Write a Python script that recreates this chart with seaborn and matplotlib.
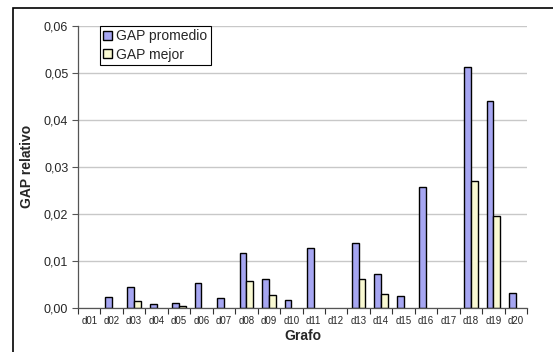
import numpy as np
import pandas as pd
import seaborn as sns
import matplotlib.pyplot as plt
from matplotlib.ticker import FuncFormatter, MultipleLocator, FixedLocator
from matplotlib.patches import Rectangle

# Data
grafos = ['d%02d' % i for i in range(1, 21)]
gap_promedio = [0.0, 0.0023, 0.0044, 0.0008, 0.0010, 0.0052, 0.0020, 0.0117, 0.0061, 0.0015,
                0.0126, 0.0, 0.0137, 0.0072, 0.0024, 0.0257, 0.0, 0.0513, 0.0440, 0.0031]
gap_mejor = [0.0, 0.0, 0.0014, 0.0, 0.0003, 0.0, 0.0, 0.0057, 0.0027, 0.0,
             0.0, 0.0, 0.0060, 0.0028, 0.0, 0.0, 0.0, 0.0269, 0.0194, 0.0]
series = ['GAP promedio', 'GAP mejor']
colors = ['#9999FF', '#FFFFCC']

df = pd.DataFrame({
    'Grafo': grafos * 2,
    'GAP': gap_promedio + gap_mejor,
    'Serie': [series[0]] * len(grafos) + [series[1]] * len(grafos),
})

sns.set_theme(style='white')
plt.rcParams['font.family'] = ['Liberation Sans', 'DejaVu Sans']

fig = plt.figure(figsize=(5.53, 3.52), dpi=100)
ax = fig.add_axes([78 / 553, 1 - 307.5 / 352, 449 / 553, 281.5 / 352])

sns.barplot(data=df, x='Grafo', y='GAP', hue='Serie', palette=colors,
            width=0.6, gap=0, edgecolor='black', linewidth=1.0, ax=ax)

ax.set_xlim(-0.5, len(grafos) - 0.5)
ax.set_ylim(0, 0.06)
ax.yaxis.set_major_locator(MultipleLocator(0.01))
ax.yaxis.set_major_formatter(FuncFormatter(lambda v, p: ('%.2f' % v).replace('.', ',')))
ax.grid(axis='y', color='#c8c8c8', linewidth=1)
ax.set_axisbelow(True)

# tick marks between categories
ax.xaxis.set_minor_locator(FixedLocator(np.arange(-0.5, len(grafos), 1.0)))
ax.tick_params(axis='x', which='major', length=0, labelsize=7, pad=6)
ax.tick_params(axis='x', which='minor', length=4, width=0.8, color='#333333', direction='out', bottom=True)
ax.tick_params(axis='y', which='major', length=4, width=0.8, color='#555555', direction='out', left=True,
               labelsize=9, pad=3)

for s in ['top', 'right']:
    ax.spines[s].set_visible(False)
for s in ['left', 'bottom']:
    ax.spines[s].set_color('#555555')
    ax.spines[s].set_linewidth(0.9)

ax.set_xlabel('Grafo', fontsize=10, fontweight='bold', labelpad=2)
ax.set_ylabel('GAP relativo', fontsize=10, fontweight='bold', labelpad=7)

leg = ax.legend(loc='upper left', bbox_to_anchor=(22 / 449, 1.0), fontsize=10,
                frameon=True, fancybox=False, edgecolor='black', framealpha=1,
                handlelength=0.6, handleheight=0.6, handletextpad=0.3,
                borderpad=0.25, labelspacing=0.3, borderaxespad=0)
leg.get_frame().set_linewidth(0.8)

# zero-height bars: no outline on the axis (after the legend is built)
for p in ax.patches:
    if p.get_height() == 0:
        p.set_linewidth(0)

# outer chart frame
fig.patches.append(Rectangle((13 / 553, -0.05), 1.1, 1 - 8 / 352 + 0.05, transform=fig.transFigure,
                             fill=False, edgecolor='black', linewidth=1.2))

fig.savefig('out.png', dpi=100)
